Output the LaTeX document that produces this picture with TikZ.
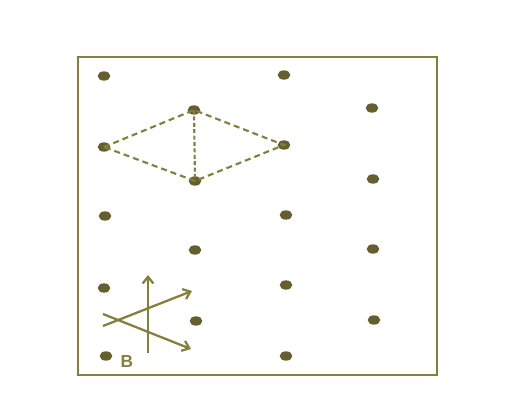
\documentclass[tikz,border=0pt]{standalone}
\usepackage{fontspec}
\setmainfont{Liberation Sans}
\usetikzlibrary{arrows.meta,shapes.geometric}
\definecolor{olive1}{HTML}{655E2E}
\definecolor{olive2}{HTML}{857F3E}
\begin{document}
\begin{tikzpicture}[x=0.75pt,y=-0.75pt,
  pin/.style={ellipse,fill=olive1,inner sep=0pt,minimum width=9.5pt,minimum height=7pt},
  dsh/.style={draw=olive2,line width=1.6pt,dash pattern=on 4.5pt off 3pt},
  arr/.style={draw=olive2,line width=1.7pt,-{Straight Barb[length=5pt,width=8pt]}}]
\useasboundingbox (0,0) rectangle (515,414);
\fill[white] (0,0) rectangle (515,414);
\draw[olive2,line width=2.2pt] (78,57) rectangle (437,375);
% column A
\node[pin] (a1) at (104,76) {};
\node[pin] (a2) at (104,147) {};
\node[pin] (a3) at (105,216) {};
\node[pin] (a4) at (104,288) {};
\node[pin] (a5) at (106,356) {};
% column B
\node[pin] (b1) at (194,110) {};
\node[pin] (b2) at (195,181) {};
\node[pin] (b3) at (195,250) {};
\node[pin] (b4) at (196,321) {};
% column C
\node[pin] (c1) at (284,75) {};
\node[pin] (c2) at (284,145) {};
\node[pin] (c3) at (286,215) {};
\node[pin] (c4) at (286,285) {};
\node[pin] (c5) at (286,356) {};
% column D
\node[pin] (d1) at (372,108) {};
\node[pin] (d2) at (373,179) {};
\node[pin] (d3) at (373,249) {};
\node[pin] (d4) at (374,320) {};
% dashed rhombus
\draw[dsh] (a2.center) -- (b1.center) -- (c2.center) -- (b2.center) -- cycle;
\draw[dsh,dash pattern=on 3pt off 1.8pt] (b1.center) -- (b2.center);
% arrows
\coordinate (v0) at (148,353);
\coordinate (v1) at (148,275);
\coordinate (p0) at (103,326);
\coordinate (p1) at (192,291);
\coordinate (q0) at (103,314);
\coordinate (q1) at (191,349);
\draw[arr] (v0) -- (v1);
\draw[arr] (p0) -- (p1);
\draw[arr] (q0) -- (q1);
\node[text=olive2,font=\bfseries\fontsize{13}{13}\selectfont] (lb) at (127,362) {B};
\end{tikzpicture}
\end{document}
